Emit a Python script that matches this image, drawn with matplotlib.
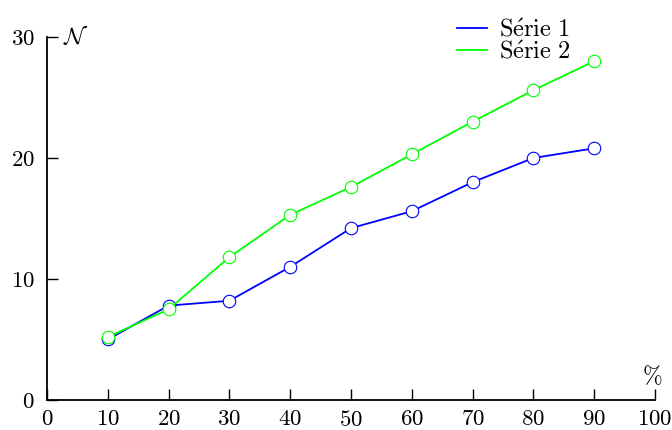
import matplotlib
matplotlib.use("Agg")
import matplotlib.pyplot as plt

plt.rcParams['mathtext.fontset'] = 'cm'
plt.rcParams['font.family'] = ['cmr10', 'DejaVu Serif']
plt.rcParams['axes.unicode_minus'] = False

x = [10, 20, 30, 40, 50, 60, 70, 80, 90]
serie1 = [5.0, 7.8, 8.2, 11.0, 14.2, 15.6, 18.0, 20.0, 20.8]
serie2 = [5.2, 7.5, 11.8, 15.3, 17.6, 20.3, 23.0, 25.6, 28.0]
labels = [r'$\mathrm{S\acute{e}rie\ 1}$', r'$\mathrm{S\acute{e}rie\ 2}$']
xticks = [0, 10, 20, 30, 40, 50, 60, 70, 80, 90, 100]
yticks = [0, 10, 20, 30]

fig = plt.figure(figsize=(6.72, 4.30), dpi=100)
ax = fig.add_axes([0.0699, 0.0698, 0.9048, 0.8442])

for ys, col, lab in [(serie1, '#0000ff', labels[0]), (serie2, '#00ff00', labels[1])]:
    ax.plot(x, ys, color=col, lw=1.3, label=lab)
    ax.plot(x, ys, ls='none', marker='o', ms=9, mfc='white', mec=col, mew=0.8)

ax.set_xlim(0, 100)
ax.set_ylim(0, 30)
ax.set_xticks(xticks)
ax.set_yticks(yticks)
ax.set_xticklabels([f'${v}$' for v in xticks])
ax.set_yticklabels([f'${v}$' for v in yticks])
ax.tick_params(direction='in', length=8, width=1.0, labelsize=16.5)
ax.tick_params(axis='y', pad=9)
ax.tick_params(axis='x', pad=7)
for s in ['top', 'right']:
    ax.spines[s].set_visible(False)
for s in ['left', 'bottom']:
    ax.spines[s].set_linewidth(1.3)

ax.text(0.027, 1.0, r'$\mathcal{N}$', transform=ax.transAxes, fontsize=17, ha='left', va='center')
ax.text(0.995, 0.065, r'$\%$', transform=ax.transAxes, fontsize=17, ha='center', va='center')

ax.legend(loc='upper right', bbox_to_anchor=(0.8815, 1.085), frameon=False, fontsize=17.6,
          handlelength=1.23, handletextpad=0.5, labelspacing=0.0, borderpad=0)

fig.savefig('out.png', dpi=100)
